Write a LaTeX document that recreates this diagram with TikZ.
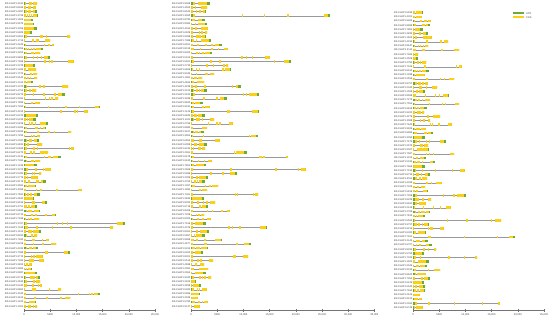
\documentclass[tikz,border=0pt]{standalone}
\usepackage{fontspec}
\setmainfont{Liberation Sans}
\usepackage{tikz}
\definecolor{utrgreen}{RGB}{108,172,52}
\definecolor{cdsyellow}{RGB}{252,208,20}

\begin{document}
\begin{tikzpicture}[x=1pt,y=-1pt,
  lbl/.style={anchor=east,inner sep=0.5pt,font=\fontsize{2.5}{3}\selectfont,text=black!75},
  ticklbl/.style={anchor=north,inner sep=0.5pt,font=\fontsize{2.6}{3}\selectfont,text=black!75},
  intron/.style={draw=black!40,line width=0.3pt},
  cds/.style={fill=cdsyellow},
  utr/.style={fill=utrgreen}]
\useasboundingbox (0,0) rectangle (550,322);
\pgfmathsetseed{42}

% legend
\fill[utr] (513,12.4) rectangle (524,14.4); \node[lbl,anchor=west] (legutr) at (525.5,13.4) {UTR};
\fill[cds] (513,16.2) rectangle (524,18.2); \node[lbl,anchor=west] (legcds) at (525.5,17.2) {CDS};

% gene structures, one column at a time (lengths in kb)
\foreach \cx/\cy/\lst [count=\c] in {
  24/3.3/{2.5,2.2,2.5,2.6,1.7,1.9,2.4,1.6,8.8,5,5.7,3.6,3.1,4.9,9.5,2.1,2.3,2.5,2.5,
          1.7,8.4,2.3,7.8,6.5,3,14.5,12.2,2.7,2.3,4.6,4.2,9,3,2.8,3.5,9.5,4.6,7,3.1,2.4,5.1,3.3,2.6,4.2,2.2,11,3,2,4.4,2.4,3.1,6.2,2.9,19.2,17,3.3,2.5,4.7,6.2,2.7,8.8,3.6,
          3.8,1.5,1.5,2.5,3.1,3.1,3.4,7.1,14.5,8.8,2.3,2.5},
  191/3.3/{3.6,3.1,2.9,26.5,2.7,3.1,3.2,3.1,2.9,3.8,5.9,7,4,15,19,7.1,7.6,4.4,2.1,
          2.5,9.5,3,12.9,6.9,2.2,3.6,13,2.6,4.4,8,3.1,2.4,12.8,5.5,3,2.7,10.6,18.5,4,2.9,21.9,8.8,3.3,2.6,5.2,3.1,12.8,2.4,4.6,3.3,7.4,2.5,3.8,2.8,14.5,3.5,2.6,6,11.4,3.3,2.2,10.9,4.2,2.5,3.3,2.8,3.9,
          1,2,3,1.7,1.3,3.2,1.7},
  413/12.7/{1.9,1.7,3.4,3.2,1.9,2.8,3.6,6.7,2.9,8.8,1,1,
          2.5,9.3,3.1,2.2,7.9,2.8,4.6,2.3,6.9,3.3,8.8,2.6,2.1,5.2,3.3,7.4,2.4,3.8,2.2,6.3,2.9,3.1,7.9,2.5,4.2,2.3,9.9,3.3,2.7,5.5,2.3,2.9,10.1,3.5,2.4,7.2,3.3,2.2,16.8,3.1,5.9,2.5,19.5,2.8,3.6,4.4,2.1,12.3,3.1,2.6,5.2,2.4,3.3,
          2.1,2.3,2.3,1.3,1.7,16.6,1.9}}{
  \foreach \L [count=\i] in \lst {
    \pgfmathsetmacro\y{\cy+(\i-1)*4.15}
    \pgfmathsetmacro\E{\L*5.24}
    \pgfmathtruncatemacro\n{1000+rnd*8999}
    \pgfmathsetmacro\ua{(rnd<0.45) ? (0.6+rnd*1.2) : 0}
    \pgfmathsetmacro\ub{(rnd<0.5) ? (1+rnd*2) : 0}
    \pgfmathsetmacro\wa{min(0.8+rnd*1.8,\E*0.25)}
    \pgfmathsetmacro\wb{min(2+rnd*4,\E*0.35)}
    \pgfmathsetmacro\pa{\cx+\ua}
    \pgfmathsetmacro\pb{\cx+\E-\ub}
    \pgfmathsetmacro\rg{max(0,\pb-\wb-\pa-\wa-1.5)}
    \coordinate (s\c-\i) at (\cx,\y);
    \coordinate (e\c-\i) at (\cx+\E,\y);
    \node[lbl] (g\c-\i) at (s\c-\i) {BS.CsHP1.\n};
    \draw[intron] (s\c-\i) -- (e\c-\i);
    \foreach \k in {1,2,3}{
      \pgfmathsetmacro\p{\pa+\wa+(rnd+0.001)^0.6*\rg}
      \pgfmathsetmacro\w{min(0.6+rnd*1.6,\pb-\p)}
      \fill[cds] (\p,\y-1.3) rectangle (\p+\w,\y+1.3);
    }
    \fill[cds] (\pa,\y-1.3) rectangle (\pa+\wa,\y+1.3);
    \fill[cds] (\pb-\wb,\y-1.3) rectangle (\pb,\y+1.3);
    \fill[utr] (\cx,\y-1.3) rectangle (\pa,\y+1.3);
    \fill[utr] (\pb,\y-1.3) rectangle (\cx+\E,\y+1.3);
  }
}

% axes, 5000 per 26.2pt
\foreach \cx/\m in {24/5,191/7,413/5}{
  \draw[black!55,line width=0.3pt] (\cx,310) -- (\cx+\m*26.2,310);
  \foreach \t [count=\k from 0] in {0,5000,{10,000},{15,000},{20,000},{25,000},{30,000},{35,000}}{
    \ifnum\k>\m\else
      \draw[black!55,line width=0.3pt] (\cx+\k*26.2,309) -- (\cx+\k*26.2,311.5);
      \node[ticklbl] (ax\cx-\k) at (\cx+\k*26.2,312.5) {\t};
    \fi
  }
}
\end{tikzpicture}
\end{document}
